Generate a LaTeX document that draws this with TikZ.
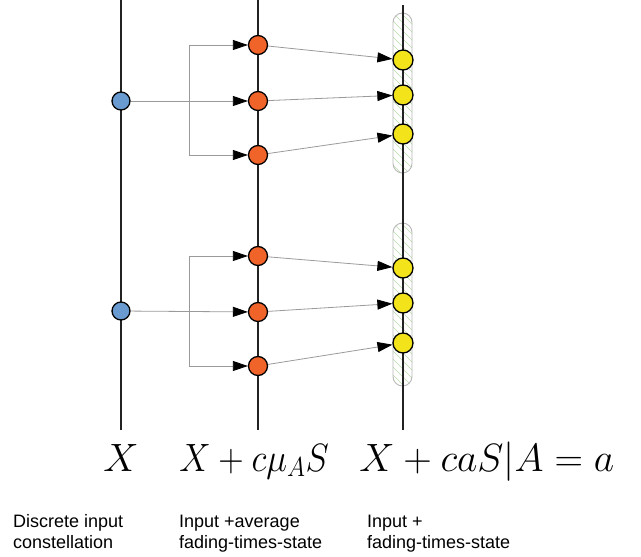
\documentclass[tikz,border=0pt]{standalone}
\usepackage{fontspec}
\newfontfamily\labelfont{Liberation Sans}
\DeclareMathSizes{24.88}{24.88}{17.28}{12}
\usetikzlibrary{arrows.meta}
\definecolor{cblue}{HTML}{6A9BD0}
\definecolor{corange}{HTML}{F0642A}
\definecolor{cyellow}{HTML}{F2E31B}
\definecolor{cline}{HTML}{222222}
\definecolor{cgrey}{HTML}{9A9A9A}
\definecolor{chatch}{HTML}{B8DCA8}
\tikzset{
  axis/.style={draw=cline, line width=1.6pt},
  dot/.style={circle, draw=black, line width=1.3pt, inner sep=0pt},
  bdot/.style={dot, fill=cblue, minimum size=18pt},
  odot/.style={dot, fill=corange, minimum size=19pt},
  ydot/.style={dot, fill=cyellow, minimum size=20pt},
  conn/.style={draw=cgrey, line width=0.8pt, -{Triangle[length=15pt,width=10pt,color=black,fill=black]}},
  capsule/.style={draw=cgrey!70, line width=0.9pt, rounded corners=9.5pt},
  mathlbl/.style={anchor=base west, inner sep=0pt, font=\Huge, scale=1.588},
  txtlbl/.style={anchor=base west, inner sep=0pt, align=left, font=\labelfont\fontsize{18}{21}\selectfont}
}
\begin{document}
\begin{tikzpicture}[x=1pt, y=-1pt]
\useasboundingbox (0,0) rectangle (641,557);
% capsules with hatching
\foreach \ya/\yb in {13/173, 223/386} {
  \begin{scope}
    \clip[rounded corners=9.5pt] (393,\ya) rectangle (412,\yb);
    \foreach \k in {-40,-32,...,200} {
      \draw[chatch, line width=0.7pt] (385,\ya+\k) -- (420,\ya+\k+35);
    }
  \end{scope}
  \draw[capsule] (393,\ya) rectangle (412,\yb);
}
% vertical axes
\draw[axis] (121,0) -- (121,430);
\draw[axis] (258,0) -- (258,430);
\draw[axis] (403,5) -- (403,430);
% nodes
\node[bdot] (b1) at (121,101) {};
\node[bdot] (b2) at (121,311) {};
\node[odot] (o11) at (258,45) {};
\node[odot] (o12) at (258,101) {};
\node[odot] (o13) at (258,155) {};
\node[odot] (o21) at (258,256) {};
\node[odot] (o22) at (258,312) {};
\node[odot] (o23) at (258,366) {};
\node[ydot] (y11) at (403,60) {};
\node[ydot] (y12) at (403,95) {};
\node[ydot] (y13) at (403,134) {};
\node[ydot] (y21) at (403,268) {};
\node[ydot] (y22) at (403,303) {};
\node[ydot] (y23) at (403,343) {};
\coordinate (c1) at (189,101);
\coordinate (c2) at (189,312);
% connectors
\draw[conn] (b1) -- (o12);
\draw[conn] (c1) |- (o11);
\draw[conn] (c1) |- (o13);
\draw[conn] (b2) -- (o22);
\draw[conn] (c2) |- (o21);
\draw[conn] (c2) |- (o23);
\draw[conn] (o11) -- (y11);
\draw[conn] (o12) -- (y12);
\draw[conn] (o13) -- (y13);
\draw[conn] (o21) -- (y21);
\draw[conn] (o22) -- (y22);
\draw[conn] (o23) -- (y23);
% labels
\node[mathlbl] (m1) at (103,471) {$X$};
\node[mathlbl, xscale=0.89] (m2) at (179,471) {$X+c\mu_AS$};
\node[mathlbl] (m3) at (359,471) {$X+caS|A=a$};
\node[txtlbl] (t1) at (13,548) {Discrete input\\constellation};
\node[txtlbl] (t2) at (179,548) {Input +average\\fading-times-state};
\node[txtlbl] (t3) at (367,548) {Input +\\fading-times-state};
\end{tikzpicture}
\end{document}
